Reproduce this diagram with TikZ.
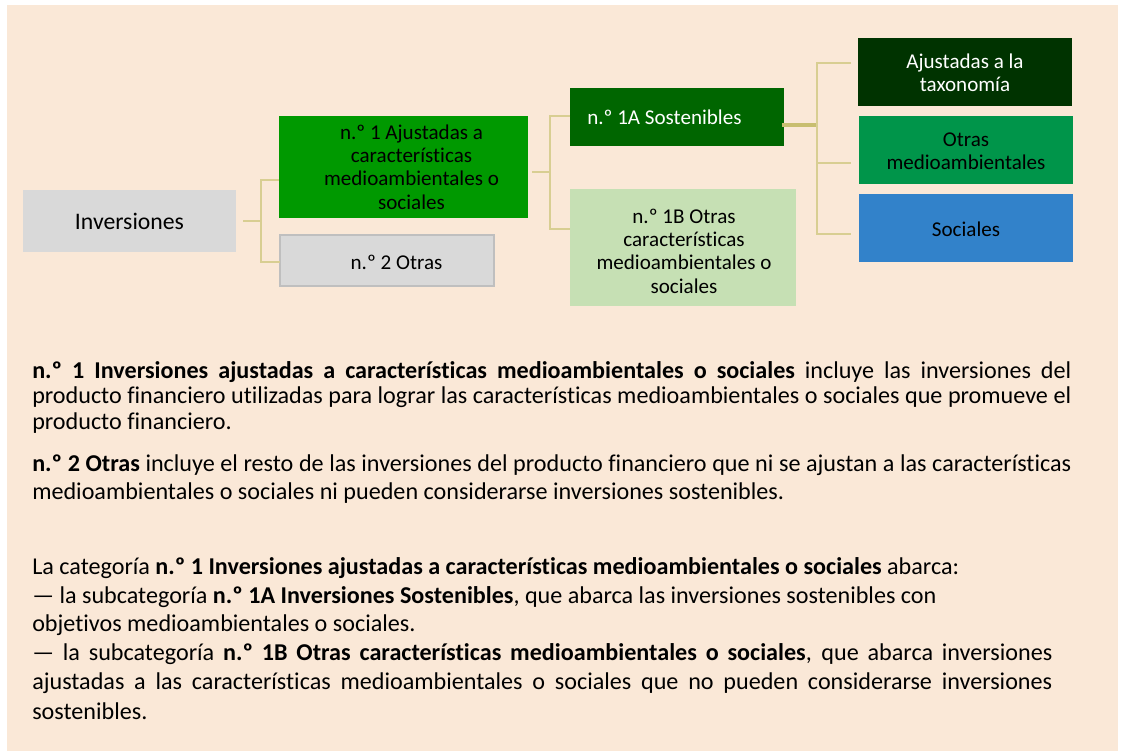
\documentclass[tikz,border=0pt]{standalone}
\usepackage{fontspec}
\setmainfont[Ligatures={NoCommon}]{Carlito}
\usetikzlibrary{fit,calc}
\definecolor{peach}{HTML}{FAE8D7}
\definecolor{grayB}{HTML}{D9D9D9}
\definecolor{grayL}{HTML}{BFBFBF}
\definecolor{greenA}{HTML}{009900}
\definecolor{greenS}{HTML}{006600}
\definecolor{greenL}{HTML}{C6E0B4}
\definecolor{greenD}{HTML}{003300}
\definecolor{greenO}{HTML}{00954A}
\definecolor{blueS}{HTML}{3282CA}
\definecolor{lineC}{HTML}{D8CE92}
\definecolor{lineT}{HTML}{C8BE70}
\begin{document}
\begin{tikzpicture}[x=0.75pt,y=-0.75pt,
  box/.style={inner sep=0pt, outer sep=0pt},
  btxt/.style={font=\fontsize{15.8}{17.5}\selectfont, align=center, inner sep=0pt},
  conn/.style={draw=lineC, line width=1.5pt},
  body/.style={anchor=base west, inner sep=0pt, font=\fontsize{18.1}{21}\selectfont}]
\useasboundingbox (0,0) rectangle (1122,751);
\fill[peach] (7,5) rectangle (1118,751);

% boxes
\node[box, fill=grayB, fit={(23,190)(236,252)}] (inv) {};
\node[box, fill=greenA, fit={(279,116)(528,218)}] (n1) {};
\node[box, fill=grayB, draw=grayL, line width=1.5pt, fit={(280,235)(494,286)}] (n2) {};
\node[box, fill=greenS, fit={(570,88)(784,146)}] (s1a) {};
\node[box, fill=greenL, fit={(570,189)(796,306)}] (s1b) {};
\node[box, fill=greenD, fit={(858,38)(1072,106)}] (tax) {};
\node[box, fill=greenO, fit={(859,116)(1073,184)}] (oma) {};
\node[box, fill=blueS, fit={(859,194)(1073,262)}] (soc) {};

% box texts
\node[inner sep=0pt, font=\fontsize{17.8}{21}\selectfont] (invt) at (inv.center) {Inversiones};
\node[btxt] (n1t) at ($(n1.center)+(8,0)$) {n.º 1 Ajustadas a\\características\\medioambientales o\\sociales};
\node[btxt] (n2t) at ($(n2.center)+(9.5,1.5)$) {n.º 2 Otras};
\node[btxt, text=white, anchor=west] (s1at) at ($(s1a.west)+(17,0)$) {n.º 1A Sostenibles};
\node[btxt] (s1bt) at ($(s1b.center)+(1,3.5)$) {n.º 1B Otras\\características\\medioambientales o\\sociales};
\node[btxt, text=white] (taxt) at ($(tax.center)+(0,0.5)$) {Ajustadas a la\\taxonomía};
\node[btxt] (omat) at ($(oma.center)+(0,1)$) {Otras\\medioambientales};
\node[btxt] (soct) at ($(soc.center)+(0,1)$) {Sociales};

% connectors
\coordinate (a1) at (243,221);
\coordinate (b1) at (261,180);
\coordinate (b2) at (261,262);
\draw[conn] (a1) -- (a1 -| b1);
\draw[conn] (b1 -| n1.west) -- (b1) -- (b2) -- (b2 -| n2.west);

\coordinate (a2) at (532,172);
\coordinate (c1) at (550,116);
\coordinate (c2) at (550,229);
\draw[conn] (a2) -- (a2 -| c1);
\draw[conn] (c1 -| s1a.west) -- (c1) -- (c2) -- (c2 -| s1b.west);

\coordinate (a3) at (782,125);
\coordinate (d1) at (817,63);
\coordinate (d2) at (817,163);
\coordinate (d3) at (817,234);
\coordinate (e1) at (851,63);
\coordinate (e2) at (851,163);
\coordinate (e3) at (851,234);
\draw[draw=lineT, line width=2.4pt] (a3) -- (a3 -| d1);
\draw[conn] (e1) -- (d1) -- (d3) -- (e3);
\draw[conn] (d2) -- (e2);

% body text
\node[body] (p1a) at (32,378) {\hbox to 779.25pt{\textbf{n.º 1 Inversiones ajustadas a características medioambientales o sociales} incluye las inversiones del}};
\node[body] (p1b) at (32,403.5) {\hbox to 779.25pt{producto financiero utilizadas para lograr las características medioambientales o sociales que promueve el}};
\node[body] (p1c) at (32,429) {producto financiero.};
\node[body] (p2a) at (32,471) {\hbox to 779.25pt{\textbf{n.º 2 Otras} incluye el resto de las inversiones del producto financiero que ni se ajustan a las características}};
\node[body] (p2b) at (32,499) {medioambientales o sociales ni pueden considerarse inversiones sostenibles.};
\node[body] (p3a) at (32,574) {La categoría \textbf{n.º 1 Inversiones ajustadas a características medioambientales o sociales} abarca:};
\node[body] (p3b) at (32,603) {— la subcategoría \textbf{n.º 1A Inversiones Sostenibles}, que abarca las inversiones sostenibles con};
\node[body] (p3c) at (32,631) {objetivos medioambientales o sociales.};
\node[body] (p3d) at (32,660) {\hbox to 765pt{— la subcategoría \textbf{n.º 1B Otras características medioambientales o sociales}, que abarca inversiones}};
\node[body] (p3e) at (32,689) {\hbox to 765pt{ajustadas a las características medioambientales o sociales que no pueden considerarse inversiones}};
\node[body] (p3f) at (32,719) {sostenibles.};
\end{tikzpicture}
\end{document}
